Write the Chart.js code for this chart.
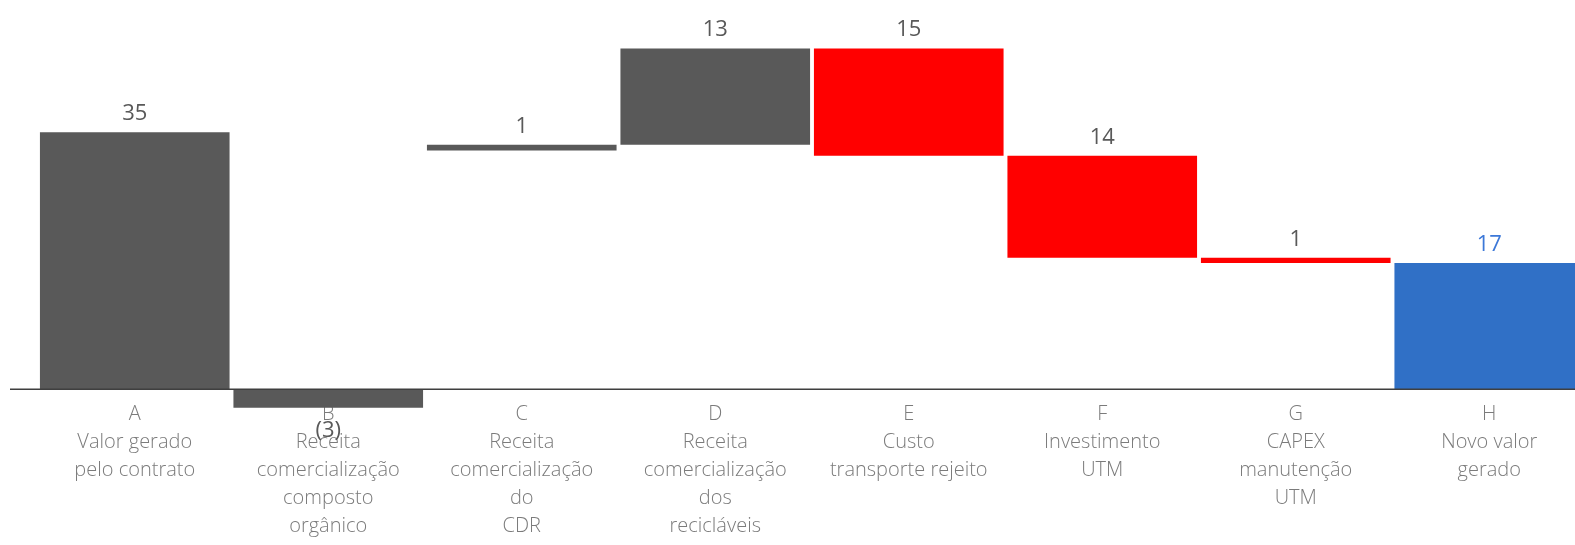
<!DOCTYPE html>
<html>
<head>
<meta charset="utf-8">
<script src="https://cdn.jsdelivr.net/npm/chart.js@4.4.1/dist/chart.umd.min.js"></script>
<style>
    html, body { margin: 0; padding: 0; background: #ffffff; overflow: hidden; }
    #wrap { position: relative; width: 1600px; height: 545px; }
</style>
</head>
<body>
<div id="wrap"><canvas id="waterfallChart"></canvas></div>
<script>
//#region Data
const categories = ["A", "B", "C", "D", "E", "F", "G", "H"];
const descriptions = [
    ["Valor gerado", "pelo contrato"],
    ["Receita", "comercialização", "composto", "orgânico"],
    ["Receita", "comercialização", "do", "CDR"],
    ["Receita", "comercialização", "dos", "recicláveis"],
    ["Custo", "transporte rejeito"],
    ["Investimento", "UTM"],
    ["CAPEX", "manutenção", "UTM"],
    ["Novo valor", "gerado"]
];
// start / revenue / cost / result
const kinds = ["start", "revenue", "revenue", "revenue", "cost", "cost", "cost", "result"];
const values = [35.0, -2.5, 0.8, 13.1, 14.6, 13.9, 0.7, 17.2];
//#endregion

//#region On Document Load
window.addEventListener("DOMContentLoaded", () => {
    LoadWaterfallChart();
});
//#endregion

//#region Helpers
function BuildFloatingBars() {
    const bars = [];
    let level = 0;
    values.forEach((v, i) => {
        const kind = kinds[i];
        if (kind === "start" || kind === "result") {
            bars.push([0, v]);
            level = v;
        } else if (kind === "cost") {
            bars.push([level, level - v]);
            level -= v;
        } else if (v < 0) {
            // negative revenue is drawn down from zero, like the original sheet
            bars.push([0, v]);
            level += v;
        } else {
            bars.push([level, level + v]);
            level += v;
        }
    });
    return bars;
}

function FormatValue(i) {
    const v = values[i];
    if (kinds[i] !== "cost" && v < 0) return "(" + Math.round(-v) + ")";
    return String(Math.round(v));
}

const kindColors = {
    start: "#595959",
    revenue: "#595959",
    cost: "#ff0000",
    result: "#3070c6"
};
//#endregion

//#region Plugins
const baselinePlugin = {
    id: "baseline",
    afterDatasetsDraw(chart) {
        const ctx = chart.ctx;
        const y = chart.scales.y.getPixelForValue(0);
        ctx.save();
        ctx.strokeStyle = "#3f3f3f";
        ctx.lineWidth = 1.5;
        ctx.beginPath();
        ctx.moveTo(10, y);
        ctx.lineTo(chart.width, y);
        ctx.stroke();
        ctx.restore();
    }
};

const valueLabelPlugin = {
    id: "valueLabels",
    afterDraw(chart) {
        const ctx = chart.ctx;
        const meta = chart.getDatasetMeta(0);
        ctx.save();
        ctx.font = "22px 'Open Sans', Roboto, sans-serif";
        ctx.textAlign = "center";
        meta.data.forEach((bar, i) => {
            const props = bar.getProps(["x", "y", "base"], true);
            const top = Math.min(props.y, props.base);
            const bottom = Math.max(props.y, props.base);
            ctx.fillStyle = kinds[i] === "result" ? "#3c78d8" : "#595959";
            if (kinds[i] !== "cost" && values[i] < 0) {
                ctx.textBaseline = "top";
                ctx.fillText(FormatValue(i), props.x, bottom + 12);
            } else {
                ctx.textBaseline = "alphabetic";
                ctx.fillText(FormatValue(i), props.x, top - 12);
            }
        });
        ctx.restore();
    }
};
//#endregion

//#region Load Waterfall Chart
function LoadWaterfallChart() {
    const element = document.querySelector("#waterfallChart");
    const chart = new Chart(element, {
        type: "bar",
        data: {
            labels: categories.map((c, i) => [c].concat(descriptions[i])),
            datasets: [{
                data: BuildFloatingBars(),
                backgroundColor: kinds.map(k => kindColors[k]),
                borderWidth: 0,
                categoryPercentage: 1,
                barPercentage: 0.98
            }]
        },
        options: {
            responsive: true,
            maintainAspectRatio: false,
            animation: false,
            layout: {
                padding: { left: 38, right: 14, top: 22, bottom: 119 }
            },
            scales: {
                x: {
                    position: { y: 0 },
                    grid: { display: false, drawTicks: false },
                    border: { display: false },
                    ticks: {
                        color: "#7b7b7b",
                        padding: 11,
                        maxRotation: 0,
                        autoSkip: false,
                        font: { family: "'Open Sans', Roboto, sans-serif", size: 20, weight: "300", lineHeight: "28px" }
                    }
                },
                y: {
                    display: false,
                    min: -5,
                    max: 50
                }
            },
            plugins: {
                legend: {
                    display: false
                },
                tooltip: {
                    enabled: false
                }
            }
        },
        plugins: [baselinePlugin, valueLabelPlugin]
    });
}
//#endregion
</script>
</body>
</html>
